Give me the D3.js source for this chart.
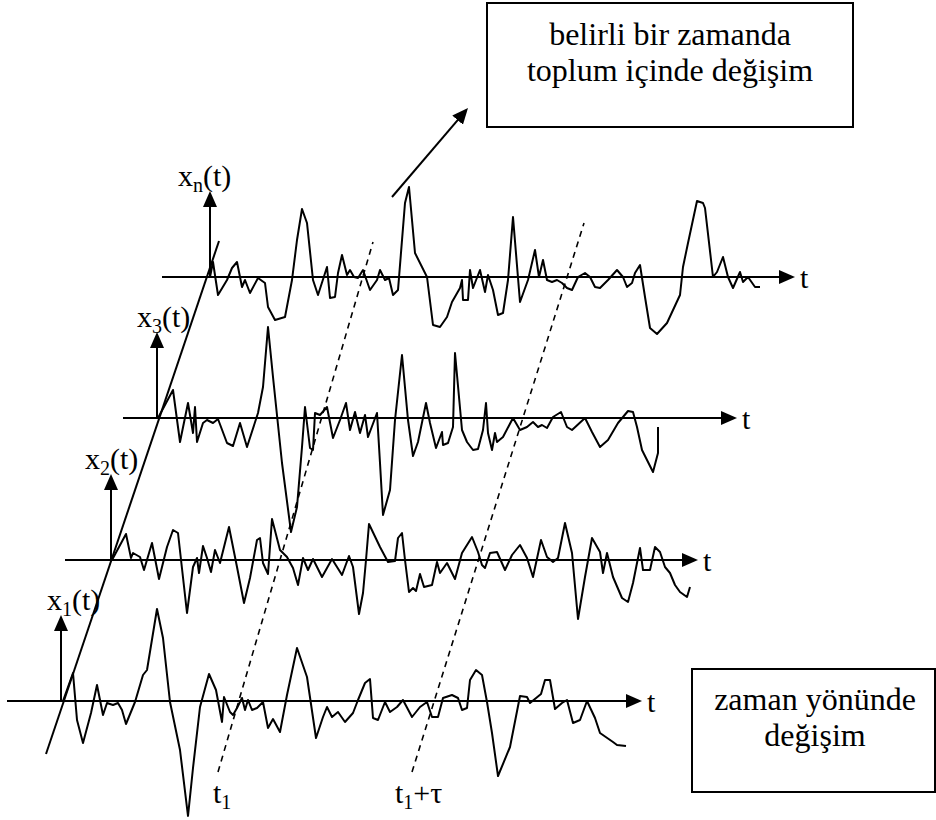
<!DOCTYPE html>
<html>
<head>
<meta charset="utf-8">
<script src="https://cdn.jsdelivr.net/npm/d3@7"></script>
<style>
  html, body { margin: 0; padding: 0; background: #fff; }
  svg text { font-family: "Liberation Serif", "Times New Roman", "DejaVu Serif", serif; fill: #000; }
</style>
</head>
<body>
<div id="holder"></div>
<script>
// sample records: [t, amplitude], t from the record start, amplitude up from its axis
const sig1 = [[0,0],[10,28],[14,-19],[20,-42],[28,-12],[34,16],[40,-14],[44,-2],[50,-4],[55,-2],[59,-9],[63,-23],[72,-1],[80,26],[84,31],[94,92],[100,63],[107,-1],[117,-49],[125,-115],[130,-67],[137,-6],[146,27],[153,11],[159,-21],[161,4],[167,-11],[170,-14],[174,-7],[179,3],[182,-9],[185,1],[189,-9],[194,-7],[200,-1],[205,-27],[210,-18],[217,-31],[224,6],[234,53],[244,24],[253,-37],[260,-16],[264,-6],[269,-16],[275,-11],[282,-21],[290,-12],[295,1],[302,18],[307,22],[310,-17],[315,-19],[322,-1],[327,-11],[334,-6],[340,1],[349,-16],[357,-6],[364,-1],[369,-16],[375,-16],[380,3],[389,6],[395,3],[399,-9],[404,-7],[407,21],[413,31],[419,26],[424,-1],[429,-32],[435,-75],[447,-46],[457,5],[464,4],[467,-2],[478,7],[482,21],[487,21],[492,-8],[499,-2],[504,1],[510,-22],[517,-19],[524,0],[532,-17],[537,-32],[550,-41],[554,-44],[563,-45]];
const sig2 = [[0,0],[14,26],[19,2],[21,7],[28,3],[32,-10],[40,17],[47,-19],[55,13],[61,30],[66,27],[75,-53],[81,-7],[85,2],[87,-13],[91,14],[95,2],[99,-12],[103,10],[108,-3],[117,33],[125,-7],[132,-43],[138,-18],[145,20],[148,22],[151,-3],[156,-14],[160,41],[168,10],[175,3],[181,-8],[186,-25],[191,2],[196,-10],[201,1],[210,-17],[220,1],[230,-15],[237,4],[241,-7],[247,-54],[251,-33],[254,0],[257,36],[268,13],[276,-2],[283,-1],[286,22],[290,27],[293,0],[297,-32],[301,-28],[304,-31],[308,-14],[312,-27],[320,-25],[325,-2],[328,-13],[335,-3],[343,-19],[350,7],[360,23],[366,8],[370,-5],[373,-8],[378,7],[385,8],[393,-10],[400,5],[408,15],[415,2],[421,-17],[429,20],[435,3],[441,-2],[446,2],[453,37],[460,7],[466,-59],[473,-17],[480,22],[488,8],[491,-13],[495,7],[501,-17],[510,-38],[516,-42],[521,-23],[528,12],[531,-10],[538,-10],[543,13],[548,8],[553,-7],[558,-13],[563,-25],[568,-32],[575,-37],[578,-27]];
const sig3 = [[0,0],[15,28],[22,-24],[30,15],[35,-15],[37,11],[39,-24],[45,-5],[49,-2],[55,-5],[60,-1],[69,-25],[75,-28],[82,-5],[89,-29],[100,5],[105,31],[110,91],[115,41],[124,-45],[133,-114],[139,-89],[144,-29],[147,11],[152,-30],[155,-32],[157,5],[162,3],[169,11],[175,-20],[182,-2],[188,15],[192,-12],[197,6],[202,-15],[207,3],[210,-19],[219,5],[222,-45],[225,-97],[232,-72],[237,-2],[244,63],[250,-2],[255,-38],[260,-24],[268,15],[272,-5],[278,-30],[284,-14],[285,-27],[290,-25],[295,-9],[297,65],[304,-12],[309,-24],[315,-32],[320,-31],[325,-12],[328,15],[330,-15],[334,-32],[337,-15],[339,-24],[345,-19],[355,0],[362,-12],[369,-9],[375,-4],[380,-9],[384,-7],[389,-10],[395,1],[403,6],[409,-9],[414,-12],[427,0],[434,-14],[442,-29],[450,-22],[460,-5],[470,7],[475,6],[479,-9],[484,-32],[495,-54],[500,-35],[500,-9]];
const sigN = [[0,0],[3,15],[8,-18],[17,-3],[22,9],[27,15],[32,-10],[35,-3],[40,-16],[48,-1],[55,-6],[58,-30],[65,-43],[75,-40],[82,-3],[87,37],[92,68],[97,54],[103,-3],[108,-18],[117,10],[120,-21],[125,-20],[128,4],[132,22],[137,2],[140,7],[144,0],[148,-1],[153,7],[160,-13],[167,-3],[170,7],[175,-3],[179,-1],[183,-18],[188,-13],[195,74],[199,90],[205,24],[217,0],[223,-48],[230,-50],[237,-40],[242,-25],[250,-11],[252,-3],[253,-23],[258,-23],[260,7],[263,-11],[270,7],[275,-15],[278,2],[283,-13],[288,-38],[293,-36],[298,-3],[303,60],[310,-25],[318,-3],[325,27],[329,0],[333,17],[337,-3],[342,-5],[347,-3],[352,-6],[357,-11],[362,-13],[368,0],[375,4],[380,0],[385,-10],[390,-11],[398,-3],[407,7],[413,0],[417,-10],[422,-6],[425,4],[430,12],[435,-20],[440,-51],[447,-57],[457,-46],[470,-18],[473,10],[478,34],[487,76],[493,74],[495,69],[503,0],[507,5],[513,20],[518,0],[523,-11],[530,5],[533,-5],[538,0],[545,-10],[550,-10]];

const signals = [sig1, sig2, sig3, sigN];
const subs = ['1', '2', '3', 'n'];
const boxTop = ['belirli bir zamanda', 'toplum içinde değişim'];
const boxBottom = ['zaman yönünde', 'değişim'];
const timeMarks = ['t1', 't1+τ'];

// layout of the records (pixels)
const rows = [
  {origin: 63, base: 701, axisX: 61, from: 7, to: 642, labelX: 47},
  {origin: 112, base: 560, axisX: 111, from: 65, to: 698, labelX: 85},
  {origin: 158, base: 418, axisX: 157, from: 123, to: 737, labelX: 137},
  {origin: 210, base: 277, axisX: 210, from: 162, to: 795, labelX: 178}
];

const width = 936;
const height = 820;
const serif = '"Liberation Serif", "Times New Roman", "DejaVu Serif", serif';
const svg = d3.select('#holder').append('svg')
  .attr('width', width).attr('height', height)
  .attr('font-family', serif);

const defs = svg.append('defs');
defs.append('marker')
  .attr('id', 'arrow')
  .attr('markerUnits', 'userSpaceOnUse')
  .attr('markerWidth', 16).attr('markerHeight', 14)
  .attr('viewBox', '0 0 16 14')
  .attr('refX', 8).attr('refY', 7)
  .attr('orient', 'auto')
  .append('path').attr('d', 'M0,0 L16,7 L0,14 Z').attr('fill', '#000');

// shorten a segment by d at its end so the marker tip lands on the end
function cut (x1, y1, x2, y2, d) {
  let len = Math.hypot(x2 - x1, y2 - y1);
  return [x2 - (x2 - x1) / len * d, y2 - (y2 - y1) / len * d];
}
function arrowLine (g, x1, y1, x2, y2) {
  let e = cut(x1, y1, x2, y2, 8);
  g.append('line').attr('x1', x1).attr('y1', y1).attr('x2', e[0]).attr('y2', e[1])
    .attr('stroke', '#000').attr('stroke-width', 2).attr('marker-end', 'url(#arrow)');
}

const gAxes = svg.append('g');
const gSig = svg.append('g');

rows.forEach((r, i) => {
  let x = d3.scaleLinear().domain([0, 600]).range([r.origin, r.origin + 600]);
  let y = d3.scaleLinear().domain([-150, 150]).range([r.base + 150, r.base - 150]);
  // time axis
  arrowLine(gAxes, r.from, y(0), r.to, y(0));
  gAxes.append('text').attr('x', r.to + 5).attr('y', y(0) + 11)
    .attr('font-size', 30).text('t');
  // amplitude axis
  arrowLine(gAxes, r.axisX, y(0), r.axisX, y(86));
  let lab = gAxes.append('text').attr('x', r.labelX).attr('y', y(91)).attr('font-size', 30);
  lab.append('tspan').text('x');
  lab.append('tspan').attr('font-size', 20).attr('dy', 6).text(subs[i]);
  lab.append('tspan').attr('dy', -6).text('(t)');

  let line = d3.line().x(d => x(d[0])).y(d => y(d[1]));
  gSig.append('path').attr('d', line(signals[i]))
    .attr('fill', 'none').attr('stroke', '#000')
    .attr('stroke-width', 2).attr('stroke-linejoin', 'round');
});

// slanted line through the record origins
gAxes.append('line').attr('x1', 46).attr('y1', 754).attr('x2', 219).attr('y2', 241)
  .attr('stroke', '#000').attr('stroke-width', 2);

// dashed lines at t1 and t1+tau
const dashes = [[218, 772, 373, 242], [412, 772, 584, 223]];
dashes.forEach(d => {
  gAxes.append('line').attr('x1', d[0]).attr('y1', d[1]).attr('x2', d[2]).attr('y2', d[3])
    .attr('stroke', '#000').attr('stroke-width', 1.6).attr('stroke-dasharray', '6,5');
});
const markX = [213, 395];
timeMarks.forEach((m, i) => {
  let t = gAxes.append('text').attr('x', markX[i]).attr('y', 803).attr('font-size', 30);
  t.append('tspan').text(m.slice(0, 1));
  t.append('tspan').attr('font-size', 20).attr('dy', 6).text(m.slice(1, 2));
  if (m.length > 2) t.append('tspan').attr('dy', -6).text(m.slice(2));
});

// pointer to the ensemble box
arrowLine(gAxes, 392, 197, 468, 108);

// boxes
function box (x0, y0, x1, y1, lines, cx, firstBase, step) {
  gAxes.append('rect').attr('x', x0).attr('y', y0).attr('width', x1 - x0).attr('height', y1 - y0)
    .attr('fill', 'none').attr('stroke', '#000').attr('stroke-width', 2);
  lines.forEach((s, i) => {
    gAxes.append('text').attr('x', cx).attr('y', firstBase + i * step)
      .attr('text-anchor', 'middle').attr('font-size', 32).text(s);
  });
}
box(487, 3, 853, 127, boxTop, 670, 45, 36);
box(692, 669, 935, 792, boxBottom, 815, 710, 36);
</script>
</body>
</html>
